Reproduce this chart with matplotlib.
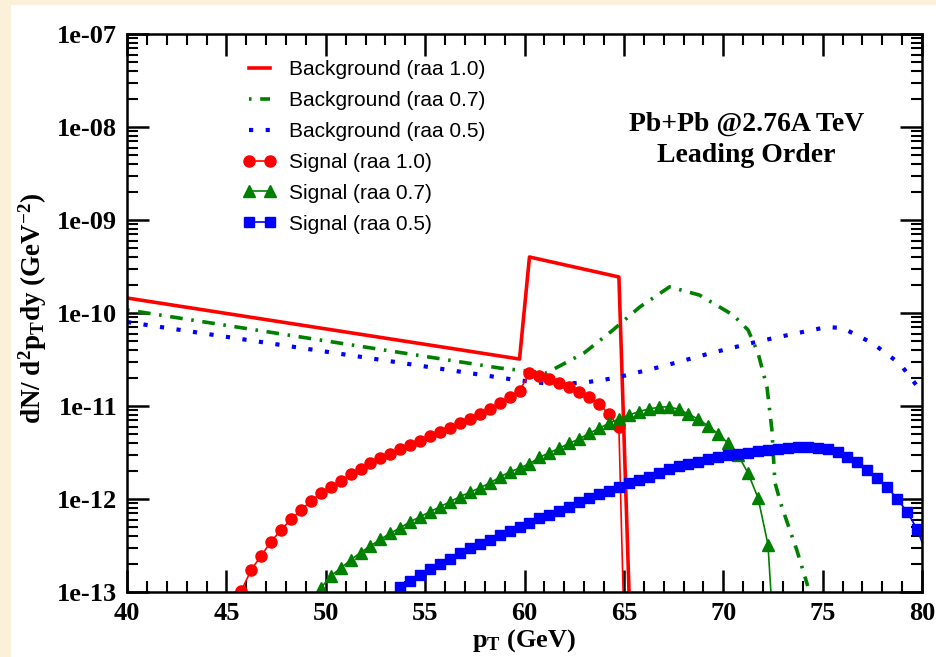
import numpy as np
import matplotlib
matplotlib.use('Agg')
import matplotlib.pyplot as plt
from matplotlib.patches import Rectangle
from matplotlib.ticker import FixedLocator, LogLocator, FuncFormatter, MultipleLocator

plt.rcParams['mathtext.fontset'] = 'custom'
plt.rcParams['mathtext.rm'] = 'Liberation Serif:bold'
plt.rcParams['mathtext.it'] = 'Liberation Serif:bold'
plt.rcParams['mathtext.bf'] = 'Liberation Serif:bold'

# background (raa 1.0 / 0.7 / 0.5)
bg_x10 = [40, 59.75, 60.25, 64.75, 65.5]
bg_y10 = [1.45e-10, 3.2e-11, 4.0e-10, 2.44e-10, 2.5e-15]

bg_x07 = [40, 58.75, 61.1, 63.0, 64.45, 65.8, 67.3, 68.8, 70.5, 71.25, 71.75,
          72.2, 72.45, 72.6, 72.95, 73.35, 73.7, 74.25]
bg_y07 = [1.08e-10, 2.56e-11, 2.26e-11, 3.72e-11, 6.56e-11, 1.16e-10, 1.91e-10,
          1.56e-10, 9.5e-11, 6.56e-11, 3.72e-11, 1.60e-11, 5.5e-12, 1.5e-12,
          8.2e-13, 4.65e-13, 2.83e-13, 1.16e-13]

bg_x05 = [40, 59.6, 61.3, 62.9, 64.55, 67.0, 69.4, 71.85, 73.5, 75.2, 76.0,
          77.5, 78.9, 79.9]
bg_y05 = [8.0e-11, 1.9e-11, 1.73e-11, 1.77e-11, 2.0e-11, 2.69e-11, 3.72e-11,
          5.0e-11, 5.94e-11, 7.06e-11, 6.9e-11, 4.75e-11, 2.83e-11, 1.49e-11]

# signal, 0.5 GeV bins
sig_x10 = np.arange(45.75, 65.3, 0.5)
sig_y10 = [1.03e-13, 1.73e-13, 2.46e-13, 3.48e-13, 4.65e-13, 6.05e-13, 7.55e-13,
           9.51e-13, 1.15e-12, 1.36e-12, 1.57e-12, 1.84e-12, 2.12e-12, 2.42e-12,
           2.74e-12, 3.05e-12, 3.42e-12, 3.81e-12, 4.21e-12, 4.75e-12, 5.25e-12,
           5.85e-12, 6.52e-12, 7.31e-12, 8.20e-12, 9.29e-12, 1.09e-11, 1.26e-11,
           1.45e-11, 2.28e-11, 2.12e-11, 1.95e-11, 1.75e-11, 1.59e-11, 1.43e-11,
           1.24e-11, 1.05e-11, 8.20e-12, 5.90e-12, 4e-16]

sig_x07 = np.arange(49.75, 72.8, 0.5)
sig_y07 = [1.10e-13, 1.49e-13, 1.80e-13, 2.21e-13, 2.65e-13, 3.13e-13, 3.69e-13,
           4.28e-13, 4.91e-13, 5.70e-13, 6.45e-13, 7.30e-13, 8.26e-13, 9.35e-13,
           1.06e-12, 1.18e-12, 1.32e-12, 1.48e-12, 1.72e-12, 1.95e-12, 2.15e-12,
           2.39e-12, 2.80e-12, 3.15e-12, 3.51e-12, 3.97e-12, 4.42e-12, 5.08e-12,
           5.75e-12, 6.52e-12, 7.25e-12, 8.00e-12, 8.69e-12, 9.29e-12, 9.68e-12,
           9.82e-12, 9.22e-12, 8.20e-12, 7.19e-12, 6.10e-12, 5.00e-12, 3.97e-12,
           2.97e-12, 1.89e-12, 1.03e-12, 3.24e-13, 6e-15]

sig_x05 = np.arange(53.75, 80.3, 0.5)
sig_y05 = [1.14e-13, 1.31e-13, 1.52e-13, 1.77e-13, 2.00e-13, 2.26e-13, 2.61e-13,
           2.95e-13, 3.26e-13, 3.62e-13, 4.07e-13, 4.53e-13, 5.04e-13, 5.48e-13,
           6.20e-13, 6.73e-13, 7.48e-13, 8.26e-13, 9.22e-13, 1.03e-12, 1.13e-12,
           1.23e-12, 1.34e-12, 1.48e-12, 1.60e-12, 1.74e-12, 1.92e-12, 2.08e-12,
           2.26e-12, 2.38e-12, 2.53e-12, 2.69e-12, 2.83e-12, 2.94e-12, 3.05e-12,
           3.16e-12, 3.28e-12, 3.40e-12, 3.49e-12, 3.53e-12, 3.60e-12, 3.65e-12,
           3.53e-12, 3.42e-12, 3.23e-12, 2.85e-12, 2.47e-12, 2.07e-12, 1.69e-12,
           1.35e-12, 1.00e-12, 7.30e-13, 4.75e-13, 2.50e-13]

serif = {'family': 'Liberation Serif', 'weight': 'bold'}

fig = plt.figure(figsize=(9.36, 6.57), dpi=100, facecolor='#FBF1DA')
fig.patches.append(Rectangle((11 / 936, 0), 1, 1 - 5 / 657, transform=fig.transFigure,
                             facecolor='white', edgecolor='none', zorder=-1))
ax = fig.add_axes([127 / 936, 65 / 657, 795 / 936, 558 / 657])

ax.semilogy(bg_x10, bg_y10, color='red', lw=2.6, label='Background (raa 1.0)')
ax.semilogy(bg_x07, bg_y07, color='green', lw=2.6,
            linestyle=(5.9, (3.5, 2.4, 0.7, 2.4)), label='Background (raa 0.7)')
ax.semilogy(bg_x05, bg_y05, color='blue', lw=3, dashes=(1, 3),
            label='Background (raa 0.5)')
ax.semilogy(sig_x10, sig_y10, color='red', lw=1.2, marker='o', ms=8,
            mec='red', label='Signal (raa 1.0)')
ax.semilogy(sig_x07, sig_y07, color='green', lw=1.2, marker='^', ms=8,
            mec='green', label='Signal (raa 0.7)')
ax.semilogy(sig_x05, sig_y05, color='blue', lw=1.2, marker='s', ms=6.5,
            mec='blue', label='Signal (raa 0.5)')

ax.set_xlim(40, 80)
ax.set_ylim(1e-13, 1e-7)
ax.xaxis.set_major_locator(MultipleLocator(5))
ax.xaxis.set_minor_locator(MultipleLocator(1))
ax.yaxis.set_major_locator(FixedLocator([10.0 ** k for k in range(-13, -6)]))
ax.yaxis.set_minor_locator(LogLocator(base=10, subs=np.arange(2, 10)))
ax.yaxis.set_major_formatter(FuncFormatter(lambda v, p: '%.0e' % v))
ax.tick_params(which='both', direction='in', top=True, right=True)
ax.tick_params(which='major', length=16, width=1.8, pad=7)
ax.tick_params(which='minor', length=8, width=1.5)
for lab in ax.get_xticklabels() + ax.get_yticklabels():
    lab.set_fontfamily('Liberation Serif')
    lab.set_fontweight('bold')
    lab.set_fontsize(19)
for s in ax.spines.values():
    s.set_linewidth(1.8)

ax.set_xlabel(r'p$_{T}$ (GeV)', fontdict=serif, fontsize=19, labelpad=2)
fig.text(33 / 936, 1 - 308 / 657, r'dN/ d$^{2}$p$_{T}$dy (GeV$^{-2}$)',
         rotation=90, ha='center', va='center', fontdict=serif, fontsize=19.5)

ax.text(0.779, 0.81, 'Pb+Pb @2.76A TeV\nLeading Order', transform=ax.transAxes,
        ha='center', va='center', fontdict=serif, fontsize=20, linespacing=1.35)

ax.legend(loc='upper left', bbox_to_anchor=(0.146, 0.953), frameon=False,
          prop={'family': 'Liberation Sans', 'size': 15}, handlelength=1.6,
          handletextpad=0.6, labelspacing=0.57, borderpad=0, borderaxespad=0,
          numpoints=2)

fig.savefig('out.png', dpi=100, facecolor=fig.get_facecolor())
